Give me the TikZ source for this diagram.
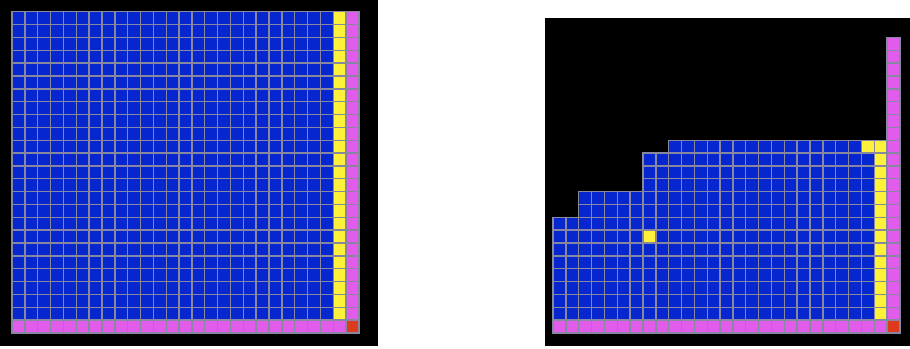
\documentclass[tikz,border=0pt]{standalone}
\usepackage{tikz}
\usepackage{xcolor}

\definecolor{azul}{RGB}{6,38,208}
\definecolor{amarillo}{RGB}{255,240,60}
\definecolor{rosa}{RGB}{226,92,236}
\definecolor{rojo}{RGB}{222,58,30}
\definecolor{linea}{RGB}{135,135,160}

\begin{document}
\begin{tikzpicture}[
x=1pt, y=1pt,
celda/.style={draw=linea, line width=1.4pt, fill=#1},
fondo/.style={fill=black}
]
\useasboundingbox (0,0) rectangle (910,348);
\fill[white] (0,0) rectangle (910,348);

% Panel izquierdo
\fill[fondo] (0,2) rectangle (378,348);
\begin{scope}[shift={(12pt,15pt)}, x=12.85pt, y=12.85pt]
\foreach \c in {0,...,24}
  \foreach \r in {1,...,24}
    \draw[celda=azul] (\c,\r) rectangle ++(1,1);
\foreach \r in {1,...,24} {
  \draw[celda=amarillo] (25,\r) rectangle ++(1,1);
  \draw[celda=rosa] (26,\r) rectangle ++(1,1);
}
\foreach \c in {0,...,25}
  \draw[celda=rosa] (\c,0) rectangle ++(1,1);
\draw[celda=rojo] (26,0) rectangle ++(1,1);
\end{scope}

% Panel derecho
\fill[fondo] (545,2) rectangle (910,330);
\begin{scope}[shift={(553pt,15pt)}, x=12.85pt, y=12.85pt]
\foreach \c in {0,...,24}
  \foreach \r in {1,...,8}
    \draw[celda=azul] (\c,\r) rectangle ++(1,1);
\foreach \c in {2,...,24}
  \foreach \r in {9,10}
    \draw[celda=azul] (\c,\r) rectangle ++(1,1);
\foreach \c in {7,...,24}
  \foreach \r in {11,...,13}
    \draw[celda=azul] (\c,\r) rectangle ++(1,1);
\foreach \c in {9,...,23}
  \draw[celda=azul] (\c,14) rectangle ++(1,1);
% celdas amarillas
\foreach \r in {1,...,14}
  \draw[celda=amarillo] (25,\r) rectangle ++(1,1);
\draw[celda=amarillo] (24,14) rectangle ++(1,1);
\draw[celda=amarillo] (7,7) rectangle ++(1,1);
% borde rosa
\foreach \c in {0,...,25}
  \draw[celda=rosa] (\c,0) rectangle ++(1,1);
\foreach \r in {1,...,22}
  \draw[celda=rosa] (26,\r) rectangle ++(1,1);
\draw[celda=rojo] (26,0) rectangle ++(1,1);
\end{scope}

\end{tikzpicture}
\end{document}
